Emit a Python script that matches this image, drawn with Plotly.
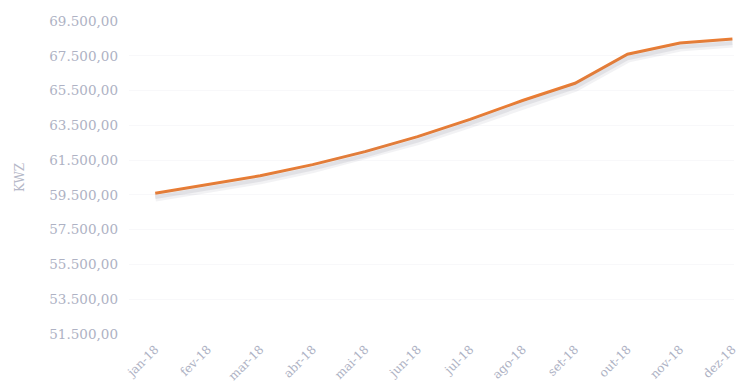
import plotly.graph_objects as go

months = ["jan-18", "fev-18", "mar-18", "abr-18", "mai-18", "jun-18",
          "jul-18", "ago-18", "set-18", "out-18", "nov-18", "dez-18"]
values = [59600, 60080, 60600, 61240, 61990, 62850,
          63840, 64930, 65920, 67590, 68230, 68460]
y_ticks = [51500, 53500, 55500, 57500, 59500, 61500, 63500, 65500, 67500, 69500]

text_color = "#aeb2c4"
font_family = "DejaVu Serif"
y_min, y_max = 51500, 69500
shadow_shift = 230  # value units; shadow drawn a few pixels lower

fig = go.Figure()
fig.add_trace(go.Scatter(
    x=months, y=values, mode="lines", yaxis="y2",
    line=dict(color="rgba(130,130,145,0.10)", width=9),
    hoverinfo="skip", showlegend=False))
fig.add_trace(go.Scatter(
    x=months, y=values, mode="lines", yaxis="y2",
    line=dict(color="rgba(130,130,145,0.14)", width=4),
    hoverinfo="skip", showlegend=False))
fig.add_trace(go.Scatter(
    x=months, y=values, mode="lines",
    line=dict(color="#ed7d31", width=3),
    showlegend=False))

fig.update_layout(
    width=738, height=385,
    margin=dict(l=129, r=4, t=21, b=51),
    paper_bgcolor="white", plot_bgcolor="white",
    separators=",.",
    font=dict(family=font_family, color=text_color, size=13),
    xaxis=dict(
        type="category", range=[-0.5, 11.03],
        tickangle=-45, showgrid=False, automargin=False,
        showline=False, zeroline=False, ticks="",
        ticklabelstandoff=5,
        tickfont=dict(size=12, color=text_color, family=font_family),
    ),
    yaxis=dict(
        range=[y_min, y_max], tickvals=y_ticks, tickformat=",.2f",
        showgrid=True, gridcolor="#f8f8fa", zeroline=False, showline=False,
        ticks="", ticklen=0, ticklabelstandoff=10, automargin=False,
        tickfont=dict(size=13.5, color=text_color, family=font_family),
        title=dict(text="KWZ", font=dict(size=12, color="#b5b8c8", family=font_family),
                   standoff=22),
    ),
    yaxis2=dict(
        overlaying="y", range=[y_min + shadow_shift, y_max + shadow_shift],
        visible=False,
    ),
)

fig.write_html("out.html")
